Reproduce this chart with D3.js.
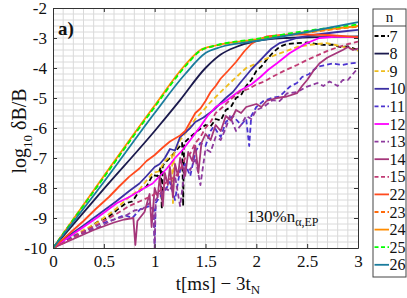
<!DOCTYPE html>
<html>
<head>
<meta charset="utf-8">
<script src="https://cdn.jsdelivr.net/npm/d3@7"></script>
<style>
  body { margin: 0; background: #fff; }
  text { font-family: "Liberation Serif", "DejaVu Serif", serif; fill: #111; }
</style>
</head>
<body>
<div id="chart"></div>
<script>
var svgWidth = 407;
var svgHeight = 298;

var margin = { top: 8, right: 49, bottom: 50, left: 53 };
var width = 358 - margin.left;
var height = 248 - margin.top;

// legend order / labels
var seriesNames = ["7", "8", "9", "10", "11", "12", "13", "14", "15", "22", "23", "24", "25", "26"];
var seriesColors = ["#000000", "#1b1a4d", "#eebd1c", "#3b2fa3", "#4b33cf", "#ff00ff", "#8d3a9d",
                    "#a5367a", "#c13b74", "#ff4a1e", "#ff6a0a", "#ff8c00", "#00ff00", "#1a7c9c"];
var seriesDashed = [true, false, true, false, true, false, true, false, true, false, true, false, true, false];
var seriesNoisy = [true, false, true, true, true, true, true, true, true, true, false, false, false, false];

var xTicks = [0, 0.5, 1, 1.5, 2, 2.5, 3];
var yTicks = [-2, -3, -4, -5, -6, -7, -8, -9, -10];

// values, [t, log10 dB/B]
var n7 = [[0,-10],[0.15,-9.72],[0.3,-9.47],[0.45,-9.1],[0.55,-8.95],[0.63,-8.73],[0.72,-8.5],[0.78,-8.45],
  [0.85,-8.1],[0.92,-7.95],[0.98,-7.57],[1.03,-7.6],[1.06,-7.3],[1.07,-8.7],[1.08,-7.25],[1.12,-7.1],
  [1.15,-7.0],[1.2,-6.8],[1.25,-6.6],[1.27,-6.5],[1.28,-8.6],[1.29,-6.5],[1.35,-6.3],[1.42,-6.1],
  [1.5,-5.9],[1.55,-5.95],[1.6,-5.7],[1.65,-5.75],[1.7,-5.4],[1.75,-5.3],[1.8,-5.0],[1.85,-4.9],
  [1.9,-4.6],[1.95,-4.4],[2.0,-4.1],[2.05,-3.95],[2.1,-3.73],[2.16,-3.5],[2.23,-3.29],[2.3,-3.2],
  [2.4,-3.17],[2.5,-3.15],[2.66,-3.23],[2.75,-3.22],[2.82,-3.3],[2.9,-3.28],[3,-3.4]];
var n8 = [[0,-10],[0.5,-8.03],[1,-6.1],[1.25,-5.07],[1.5,-4.0],[1.65,-3.55],[1.8,-3.3],[2,-3.1],
  [2.3,-3.0],[2.6,-2.97],[3,-2.95]];
var n9 = [[0,-10],[0.2,-9.6],[0.46,-9.1],[0.6,-8.75],[0.75,-8.3],[0.85,-8.05],[0.98,-7.5],[1.04,-7.45],
  [1.1,-7.1],[1.17,-6.9],[1.18,-8.5],[1.19,-6.85],[1.25,-6.4],[1.32,-6.1],[1.4,-5.7],[1.47,-5.45],
  [1.54,-5.17],[1.62,-4.9],[1.74,-4.5],[1.82,-4.25],[1.9,-4.0],[2.0,-3.85],[2.07,-3.73],[2.2,-3.55],
  [2.4,-3.3],[2.55,-3.22],[2.69,-3.17],[2.8,-3.25],[2.92,-3.35],[3,-3.42]];
var n10 = [[0,-10],[0.15,-9.6],[0.3,-9.25],[0.4,-9.0],[0.5,-8.75],[0.62,-8.45],[0.75,-8.1],[0.85,-7.85],
  [0.92,-7.6],[1.0,-7.3],[1.05,-7.2],[1.1,-7.0],[1.15,-6.7],[1.2,-6.75],[1.25,-6.3],[1.3,-6.15],
  [1.35,-6.0],[1.4,-5.8],[1.48,-5.65],[1.58,-5.4],[1.64,-5.2],[1.7,-5.0],[1.77,-4.8],[1.84,-4.5],
  [1.95,-4.05],[2.07,-3.63],[2.15,-3.35],[2.23,-3.17],[2.4,-3.0],[2.56,-2.9],[2.8,-2.8],[3,-2.73]];
var n11 = [[0,-10],[0.2,-9.6],[0.35,-9.4],[0.46,-9.2],[0.6,-9.05],[0.7,-8.9],[0.78,-9.0],[0.86,-8.7],
  [0.95,-8.6],[0.99,-8.7],[1.0,-9.9],[1.01,-8.5],[1.05,-8.3],[1.1,-8.1],[1.15,-7.8],[1.2,-8.4],
  [1.25,-7.4],[1.3,-7.2],[1.35,-7.6],[1.4,-6.8],[1.45,-6.5],[1.5,-6.6],[1.55,-6.1],[1.58,-5.95],
  [1.65,-6.3],[1.7,-5.8],[1.77,-5.6],[1.85,-5.9],[1.9,-5.7],[1.93,-6.6],[1.95,-5.6],[2.0,-5.3],
  [2.07,-5.1],[2.15,-5.0],[2.23,-4.95],[2.33,-4.62],[2.4,-4.5],[2.45,-4.3],[2.52,-4.2],[2.6,-3.96],
  [2.68,-3.9],[2.75,-3.85],[2.85,-3.9],[2.92,-3.85],[3,-3.82]];
var n12 = [[0,-10],[0.15,-9.65],[0.3,-9.3],[0.45,-8.95],[0.63,-8.5],[0.75,-8.3],[0.9,-8.0],[0.98,-7.85],
  [1.05,-7.6],[1.12,-7.35],[1.2,-7.0],[1.27,-6.75],[1.35,-6.4],[1.45,-5.95],[1.52,-5.6],[1.6,-5.3],
  [1.7,-5.1],[1.84,-4.75],[1.95,-4.55],[2.04,-4.3],[2.12,-4.05],[2.2,-3.85],[2.33,-3.5],[2.49,-3.18],
  [2.62,-3.0],[2.8,-2.95],[3,-2.98]];
var n13 = [[0,-10],[0.15,-9.75],[0.3,-9.5],[0.45,-9.3],[0.6,-9.05],[0.7,-8.95],[0.8,-8.75],[0.88,-8.7],
  [0.95,-8.5],[0.99,-8.8],[1.0,-10],[1.01,-8.4],[1.05,-8.2],[1.1,-8.0],[1.15,-8.1],[1.2,-7.6],
  [1.25,-8.6],[1.3,-7.3],[1.35,-7.4],[1.4,-7.0],[1.45,-7.9],[1.5,-6.7],[1.55,-6.8],[1.6,-6.3],
  [1.65,-6.4],[1.7,-6.0],[1.74,-5.6],[1.8,-6.1],[1.85,-5.9],[1.9,-5.6],[1.95,-5.7],[2.0,-5.4],
  [2.07,-5.3],[2.16,-5.07],[2.23,-5.1],[2.3,-4.85],[2.4,-4.8],[2.5,-4.62],[2.6,-4.5],[2.66,-4.6],
  [2.72,-4.45],[2.8,-4.6],[2.85,-4.4],[2.9,-4.4],[2.95,-4.2],[3,-4.0]];
var n14 = [[0,-10],[0.2,-9.7],[0.4,-9.4],[0.6,-9.15],[0.7,-9.05],[0.79,-9.0],[0.81,-9.9],[0.83,-9.1],
  [0.9,-8.8],[0.95,-8.2],[0.97,-9.3],[1.0,-8.0],[1.03,-8.3],[1.05,-7.6],[1.08,-8.6],[1.1,-7.5],
  [1.13,-7.9],[1.15,-7.3],[1.18,-8.3],[1.2,-7.2],[1.23,-7.6],[1.25,-7.0],[1.3,-7.6],[1.33,-6.8],
  [1.37,-7.1],[1.4,-6.6],[1.43,-7.5],[1.46,-6.5],[1.5,-6.2],[1.55,-6.4],[1.6,-5.9],[1.65,-6.1],
  [1.7,-5.6],[1.75,-5.75],[1.8,-5.4],[1.85,-5.5],[1.9,-5.3],[2.0,-5.2],[2.05,-5.3],[2.1,-5.1],
  [2.2,-5.0],[2.3,-4.95],[2.4,-4.84],[2.45,-4.6],[2.5,-4.4],[2.56,-4.1],[2.62,-3.85],[2.7,-3.65],
  [2.79,-3.5],[2.85,-3.4],[2.9,-3.3],[2.95,-3.4],[3,-3.35]];
var n15 = [[0,-10],[0.15,-9.75],[0.3,-9.45],[0.45,-9.2],[0.63,-8.85],[0.75,-8.6],[0.85,-8.45],
  [0.95,-8.3],[1.05,-8.1],[1.1,-7.85],[1.15,-7.7],[1.2,-7.65],[1.25,-7.4],[1.3,-7.0],[1.35,-6.85],
  [1.4,-6.5],[1.45,-6.3],[1.5,-6.0],[1.55,-5.8],[1.6,-5.5],[1.67,-5.3],[1.74,-5.07],[1.84,-4.79],
  [1.92,-4.7],[2.0,-4.55],[2.08,-4.45],[2.16,-4.29],[2.3,-4.05],[2.4,-3.9],[2.5,-3.73],[2.6,-3.58],
  [2.72,-3.4],[2.82,-3.29],[2.9,-3.2],[3,-3.12]];
var n22 = [[0,-10],[0.15,-9.55],[0.3,-9.1],[0.42,-8.7],[0.55,-8.3],[0.65,-7.95],[0.75,-7.62],[0.85,-7.35],
  [0.92,-7.1],[1.0,-6.9],[1.08,-6.65],[1.15,-6.45],[1.2,-6.35],[1.25,-6.25],[1.3,-6.1],[1.35,-5.8],
  [1.4,-5.5],[1.45,-5.35],[1.5,-5.1],[1.55,-4.8],[1.6,-4.6],[1.65,-4.35],[1.72,-4.1],[1.8,-3.8],
  [1.88,-3.45],[1.95,-3.2],[2.02,-3.05],[2.1,-2.95],[2.25,-2.9],[2.4,-2.88],[2.7,-2.9],[3,-2.97]];
var n23 = [[0,-10],[0.5,-7.62],[1,-5.27],[1.3,-3.92],[1.45,-3.42],[1.6,-3.26],[2,-3.06],[2.5,-2.82],[3,-2.62]];
var n24 = [[0,-10],[0.5,-7.6],[1,-5.25],[1.3,-3.9],[1.45,-3.4],[1.6,-3.25],[2,-3.05],[2.5,-2.8],[3,-2.6]];
var n25 = [[0,-10],[0.5,-7.65],[1,-5.3],[1.3,-3.95],[1.45,-3.42],[1.6,-3.25],[2,-3.03],[2.5,-2.76],[3,-2.55]];
var n26 = [[0,-10],[0.5,-7.8],[1,-5.5],[1.3,-4.2],[1.5,-3.5],[1.65,-3.3],[2,-3.1],[2.5,-2.8],[3,-2.47]];

var seriesData = [n7, n8, n9, n10, n11, n12, n13, n14, n15, n22, n23, n24, n25, n26];

var svg = d3.select("#chart").append("svg")
  .attr("width", svgWidth)
  .attr("height", svgHeight);

var chartGroup = svg.append("g")
  .attr("transform", `translate(${margin.left}, ${margin.top})`);

var xScale = d3.scaleLinear().domain([0, 3]).range([0, width]);
var yScale = d3.scaleLinear().domain([-10, -2]).range([height, 0]);

// minor grid
chartGroup.append("g").selectAll("line")
  .data(d3.range(1, 30).map(i => i / 10))
  .enter().append("line")
  .attr("x1", d => xScale(d)).attr("x2", d => xScale(d))
  .attr("y1", 0).attr("y2", height)
  .attr("stroke", "#dadada").attr("stroke-width", 1);

chartGroup.append("g").selectAll("line")
  .data(d3.range(1, 40).map(i => -10 + i * 0.2))
  .enter().append("line")
  .attr("x1", 0).attr("x2", width)
  .attr("y1", d => yScale(d)).attr("y2", d => yScale(d))
  .attr("stroke", "#dadada").attr("stroke-width", 1);

// lines
svg.append("clipPath").attr("id", "plotclip")
  .append("rect").attr("width", width).attr("height", height);

var smoothLine = d3.line()
  .x(d => xScale(d[0]))
  .y(d => yScale(d[1]))
  .curve(d3.curveMonotoneX);
var roughLine = d3.line()
  .x(d => xScale(d[0]))
  .y(d => yScale(d[1]));

chartGroup.append("g").attr("clip-path", "url(#plotclip)")
  .selectAll("path")
  .data(seriesData)
  .enter().append("path")
  .attr("d", (d, i) => seriesNoisy[i] ? roughLine(d) : smoothLine(d))
  .attr("fill", "none")
  .attr("stroke", (d, i) => seriesColors[i])
  .attr("stroke-width", 1.8)
  .attr("stroke-linejoin", "round")
  .attr("stroke-dasharray", (d, i) => seriesDashed[i] ? "5,3" : null);

// axes (inward ticks, box)
var bottomAxis = d3.axisBottom(xScale).tickValues(xTicks).tickSizeInner(-4).tickSizeOuter(0).tickPadding(7)
  .tickFormat(d => d);
var leftAxis = d3.axisLeft(yScale).tickValues(yTicks).tickSizeInner(-4).tickSizeOuter(0).tickPadding(6)
  .tickFormat(d => d);

chartGroup.append("g")
  .attr("transform", `translate(0, ${height})`)
  .call(bottomAxis);
chartGroup.append("g").call(leftAxis);

chartGroup.append("g")
  .call(d3.axisTop(xScale).tickValues(xTicks).tickSizeInner(-4).tickSizeOuter(0).tickFormat(""));
chartGroup.append("g")
  .attr("transform", `translate(${width}, 0)`)
  .call(d3.axisRight(yScale).tickValues(yTicks).tickSizeInner(-4).tickSizeOuter(0).tickFormat(""));

chartGroup.selectAll(".domain").attr("stroke", "#333");
chartGroup.selectAll(".tick line").attr("stroke", "#333");
chartGroup.selectAll(".tick text")
  .style("font-family", "'Liberation Serif', serif")
  .style("font-size", "17px")
  .attr("fill", "#111");

// y label
var yLab = svg.append("text")
  .attr("transform", "translate(26, 131) rotate(-90)")
  .attr("text-anchor", "middle")
  .style("font-size", "20px");
yLab.append("tspan").text("log");
yLab.append("tspan").attr("dy", 6).style("font-size", "13px").text("10");
yLab.append("tspan").attr("dy", -6).text(" δB/B");

// x label
var xLab = svg.append("text")
  .attr("x", 218)
  .attr("y", 290)
  .attr("text-anchor", "middle")
  .style("font-size", "19px");
xLab.append("tspan").text("t[ms] − 3t");
xLab.append("tspan").attr("dy", 4).style("font-size", "13px").text("N");

// annotations
chartGroup.append("text")
  .attr("x", 5).attr("y", 27)
  .style("font-size", "19px").style("font-weight", "bold")
  .text("a)");

var note = chartGroup.append("text")
  .attr("x", 194).attr("y", 214)
  .style("font-size", "17px");
note.append("tspan").text("130%n");
note.append("tspan").attr("dy", 4).style("font-size", "12px").text("α,EP");

// legend
var legend = svg.append("g").attr("transform", "translate(373, 9)");
legend.append("rect")
  .attr("width", 33).attr("height", 268)
  .attr("fill", "#fff").attr("stroke", "#444").attr("stroke-width", 1);
legend.append("text")
  .attr("x", 16.5).attr("y", 13)
  .attr("text-anchor", "middle")
  .style("font-size", "15px").text("n");
legend.append("line")
  .attr("x1", 0).attr("x2", 33).attr("y1", 17).attr("y2", 17)
  .attr("stroke", "#444");

var entries = legend.selectAll(".entry")
  .data(seriesNames)
  .enter().append("g")
  .attr("transform", (d, i) => `translate(0, ${27 + i * 17.6})`);

entries.append("line")
  .attr("x1", 1.5).attr("x2", 16)
  .attr("stroke", (d, i) => seriesColors[i])
  .attr("stroke-width", 1.8)
  .attr("stroke-dasharray", (d, i) => seriesDashed[i] ? "4,2.5" : null);

entries.append("text")
  .attr("x", 16.5).attr("y", 5.5)
  .style("font-size", "16px")
  .text(d => d);
</script>
</body>
</html>
